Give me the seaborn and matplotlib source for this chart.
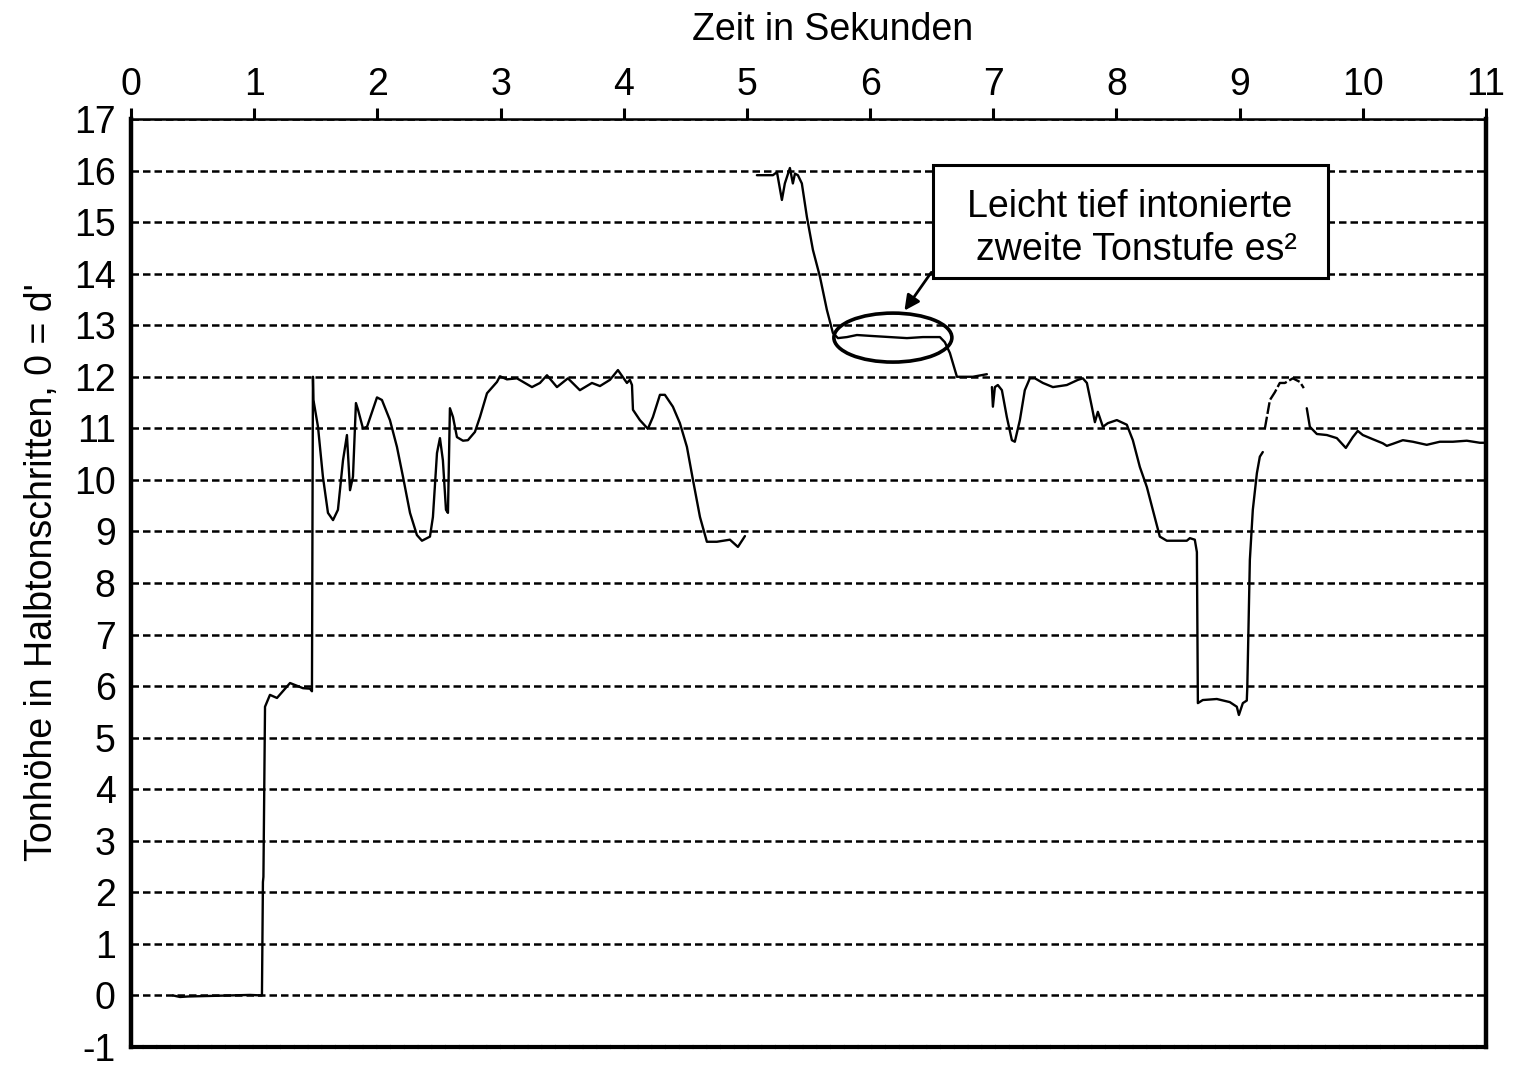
import seaborn as sns
import matplotlib
matplotlib.use('Agg')
import matplotlib.pyplot as plt
from matplotlib.patches import Ellipse, Rectangle
import pandas as pd
import numpy as np

# pitch track (time in s, pitch in semitones, 0 = d')
seg1_t = [0.341, 0.398, 0.463, 0.804, 0.966, 1.063, 1.071, 1.075, 1.088, 1.128, 1.185, 1.291, 1.396,
          1.453, 1.469, 1.477, 1.481, 1.518, 1.558, 1.599, 1.640, 1.680, 1.721, 1.753, 1.778, 1.802,
          1.826, 1.843, 1.883, 1.916, 1.997, 2.037, 2.102, 2.159, 2.208, 2.265, 2.321, 2.362, 2.427,
          2.451, 2.484, 2.508, 2.532, 2.557, 2.573, 2.589, 2.614, 2.646, 2.695, 2.735, 2.792, 2.833,
          2.890, 2.971, 2.995, 3.052, 3.133, 3.255, 3.320, 3.377, 3.458, 3.547, 3.644, 3.742, 3.807,
          3.888, 3.953, 4.026, 4.050, 4.067, 4.075, 4.131, 4.196, 4.237, 4.294, 4.334, 4.399, 4.456,
          4.513, 4.562, 4.619, 4.675, 4.756, 4.862, 4.927, 4.984]
seg1_v = [0.0, -0.03, -0.02, 0.0, 0.01, 0.0, 2.2, 2.3, 5.6, 5.83, 5.77, 6.06, 5.96,
          5.95, 5.9, 12.0, 11.55, 11.03, 10.06, 9.36, 9.22, 9.42, 10.38, 10.87, 9.8, 10.06,
          11.49, 11.36, 11.0, 11.03, 11.6, 11.55, 11.16, 10.64, 10.06, 9.36, 8.93, 8.82, 8.9,
          9.28, 10.52, 10.81, 10.38, 9.42, 9.36, 11.39, 11.22, 10.83, 10.76, 10.77, 10.93, 11.22,
          11.68, 11.9, 12.01, 11.95, 11.97, 11.8, 11.88, 12.03, 11.8, 11.97, 11.74, 11.88, 11.82,
          11.94, 12.13, 11.88, 11.94, 11.84, 11.36, 11.16, 10.99, 11.22, 11.65, 11.65, 11.42, 11.1,
          10.64, 10.0, 9.28, 8.8, 8.8, 8.84, 8.7, 8.91]

seg2_t = [5.081, 5.211, 5.244, 5.284, 5.308, 5.349, 5.373, 5.390, 5.414, 5.446, 5.487, 5.536, 5.593,
          5.649, 5.698, 5.739, 5.812, 5.893, 6.023, 6.161, 6.299, 6.429, 6.567, 6.607, 6.648, 6.705,
          6.834, 6.948]
seg2_v = [15.91, 15.91, 15.97, 15.43, 15.75, 16.05, 15.75, 15.94, 15.91, 15.75, 15.1, 14.46, 13.94,
          13.3, 12.85, 12.75, 12.77, 12.81, 12.79, 12.77, 12.75, 12.77, 12.77, 12.67, 12.46, 12.0,
          12.0, 12.05]

seg3_t = [6.989, 6.997, 7.013, 7.037, 7.070, 7.110, 7.151, 7.175, 7.216, 7.256, 7.297, 7.338, 7.403,
          7.484, 7.597, 7.687, 7.727, 7.760, 7.800, 7.825, 7.849, 7.890, 7.930, 8.003, 8.084, 8.133,
          8.190, 8.247, 8.295, 8.352, 8.409, 8.571, 8.596, 8.636, 8.653, 8.661, 8.701, 8.815, 8.920,
          8.977, 8.994, 9.026, 9.058, 9.062, 9.083, 9.107, 9.140, 9.164, 9.188]
seg3_v = [11.8, 11.42, 11.8, 11.84, 11.74, 11.22, 10.77, 10.74, 11.16, 11.74, 11.97, 11.97, 11.88,
          11.8, 11.84, 11.94, 11.97, 11.88, 11.42, 11.12, 11.32, 11.03, 11.1, 11.16, 11.07, 10.77,
          10.25, 9.86, 9.42, 8.9, 8.82, 8.82, 8.87, 8.84, 8.6, 5.67, 5.73, 5.75, 5.69,
          5.6, 5.44, 5.67, 5.72, 5.96, 8.45, 9.42, 10.13, 10.45, 10.54]

seg4_t = [9.205, 9.246, 9.286, 9.326, 9.367, 9.432, 9.489, 9.521]
seg4_v = [11.0, 11.55, 11.7, 11.88, 11.88, 11.97, 11.9, 11.78]

seg5_t = [9.545, 9.570, 9.627, 9.708, 9.789, 9.862, 9.919, 9.959, 10.0, 10.08, 10.162, 10.195, 10.244,
          10.325, 10.406, 10.519, 10.625, 10.731, 10.844, 10.95, 10.99]
seg5_v = [11.39, 11.03, 10.89, 10.87, 10.81, 10.62, 10.83, 10.95, 10.87, 10.79, 10.71, 10.66, 10.7,
          10.77, 10.74, 10.68, 10.74, 10.74, 10.76, 10.72, 10.72]

x_ticks = list(range(0, 12))
y_ticks = list(range(-1, 18))

frames = []
for i, (t, v) in enumerate([(seg1_t, seg1_v), (seg2_t, seg2_v), (seg3_t, seg3_v),
                            (seg4_t, seg4_v), (seg5_t, seg5_v)]):
    frames.append(pd.DataFrame({'zeit': t, 'ton': v, 'seg': i,
                                'art': 'gebrochen' if i == 3 else 'voll'}))
df = pd.concat(frames, ignore_index=True)

sns.set_style('white')
plt.rcParams['font.family'] = ['Liberation Sans', 'DejaVu Sans']
plt.rcParams['axes.unicode_minus'] = False
plt.rcParams['text.color'] = 'black'
plt.rcParams['xtick.color'] = 'black'
plt.rcParams['ytick.color'] = 'black'

fs = 27

fig = plt.figure(figsize=(15.35, 10.87), dpi=100)
ax = fig.add_axes([131/1535, 1-1047/1087, (1486-131)/1535, (1047-119)/1087])

# dashed horizontal grid
for y in y_ticks:
    ax.axhline(y, color='black', lw=1.8, ls=(0, (3.0, 1.6)), zorder=1)

sns.lineplot(data=df, x='zeit', y='ton', units='seg', estimator=None, sort=False,
             style='art', dashes={'voll': '', 'gebrochen': (5, 1.2)},
             color='black', lw=1.7, legend=False, ax=ax, zorder=3)

ax.set_xlim(0, 11)
ax.set_ylim(-1, 17)
ax.set_xticks(x_ticks)
ax.set_yticks(y_ticks)
ax.xaxis.tick_top()
ax.tick_params(axis='x', direction='out', length=8, width=2.2, pad=3.5, labelsize=fs,
               labelcolor='black')
ax.tick_params(axis='y', direction='out', length=8, width=2.2, pad=3, labelsize=fs,
               labelcolor='black')
ax.set_xlabel('')
ax.set_ylabel('')

for side in ['left', 'right']:
    ax.spines[side].set_linewidth(3.2)
    ax.spines[side].set_color('black')
ax.spines['top'].set_linewidth(1.8)
ax.spines['top'].set_color('black')
ax.spines['bottom'].set_linewidth(3.0)
ax.spines['bottom'].set_linestyle((0, (2.5, 0.8)))
ax.spines['bottom'].set_color('black')

fig.text(833/1535, 1-30/1087, 'Zeit in Sekunden', ha='center', va='center', fontsize=fs)
fig.text(42/1535, 1-572/1087, "Tonhöhe in Halbtonschritten, 0 = d'", ha='center', va='center',
         rotation=90, fontsize=fs)

# annotation: ellipse, arrow and box
ax.add_patch(Ellipse((6.185, 12.76), 0.958, 0.95, fill=False, ec='black', lw=2.6, zorder=4))
ax.annotate('', xy=(6.266, 13.24), xytext=(6.51, 14.07),
            arrowprops=dict(arrowstyle='-|>,head_length=0.9,head_width=0.45', color='black', lw=2.0),
            zorder=4)
ax.add_patch(Rectangle((6.51, 13.92), 9.716-6.51, 16.11-13.92, fill=True, fc='white', ec='black',
                       lw=2.2, zorder=4))
ax.text(8.11, 15.29, 'Leicht tief intonierte', ha='center', va='center', fontsize=fs, zorder=5)
ax.text(8.16, 14.46, 'zweite Tonstufe es²', ha='center', va='center', fontsize=fs, zorder=5)

fig.savefig('out.png', dpi=100, facecolor='white')
